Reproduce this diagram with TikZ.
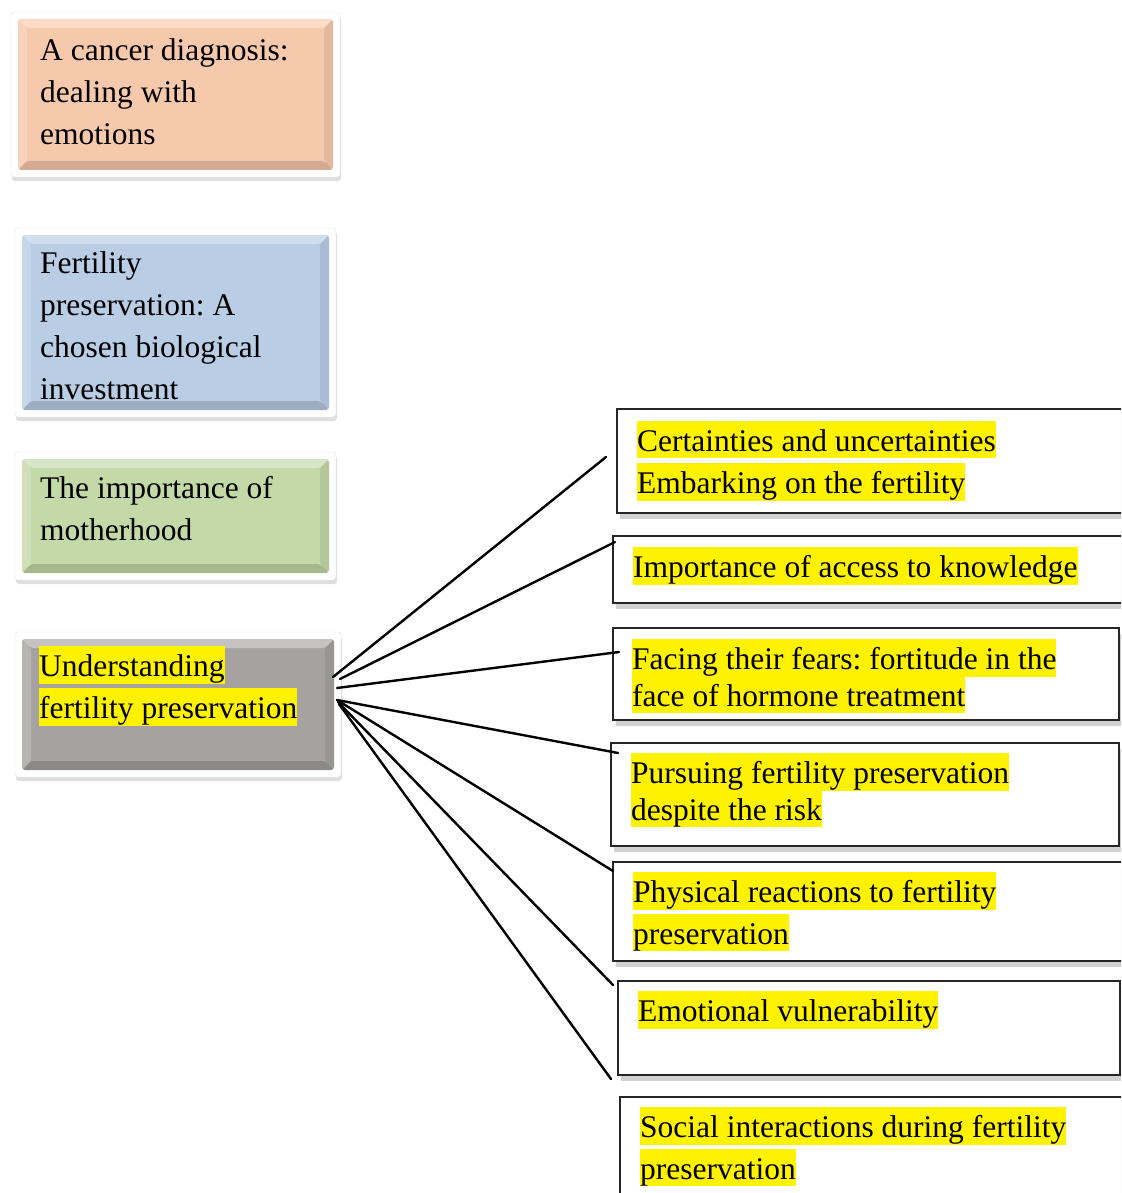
\documentclass[tikz,border=0pt]{standalone}
\usepackage{fontspec}
\setmainfont{Liberation Serif}
\usepackage{xcolor}
\usepackage{tikz}
\usetikzlibrary{positioning,calc,shadows}
\definecolor{thPeach}{RGB}{247,201,172}
\definecolor{thBlue}{RGB}{185,205,229}
\definecolor{thGreen}{RGB}{195,217,168}
\definecolor{thGray}{RGB}{166,162,162}
\newcommand{\hlt}[1]{{\setlength{\fboxsep}{0pt}\colorbox{yellow}{\rule[-0.2em]{0pt}{1.17em}#1}}}
\tikzset{
  th_box/.style={
    draw=black!12, fill=white, rounded corners=3pt, inner sep=0pt, outer sep=0pt,
    anchor=north west,
    drop shadow={shadow xshift=1pt, shadow yshift=-4pt, opacity=.25},
    path picture={
      \coordinate (pa) at ($(path picture bounding box.south west)+(7pt,7pt)$);
      \coordinate (pb) at ($(path picture bounding box.north east)+(-7pt,-7pt)$);
      \coordinate (qa) at ($(pa)+(9pt,9pt)$);
      \coordinate (qb) at ($(pb)+(-9pt,-9pt)$);
      \fill[#1] (pa) rectangle (pb);
      \fill[white, opacity=.35] (pa|-pb) -- (pb) -- (qb) -- (qa|-qb) -- cycle;
      \fill[white, opacity=.2]  (pa) -- (pa|-pb) -- (qa|-qb) -- (qa) -- cycle;
      \fill[black, opacity=.15] (pa) -- (pb|-pa) -- (qb|-qa) -- (qa) -- cycle;
      \fill[black, opacity=.08] (pb|-pa) -- (pb) -- (qb) -- (qb|-qa) -- cycle;
    }
  },
  sub_box/.style={
    draw=black!85, line width=1.2pt, fill=white, inner sep=0pt, outer sep=0pt,
    anchor=north west,
    drop shadow={shadow xshift=3pt, shadow yshift=-6pt, opacity=.3, fill=black!60}
  },
  th_txt/.style={
    inner sep=0pt, align=left,
    font=\fontsize{31.5}{42}\selectfont
  },
  th_txt_n/.style={
    inner sep=0pt, align=left,
    font=\fontsize{31.5}{36.5}\selectfont
  },
  link/.style={line width=2.4pt, line cap=round},
}
\begin{document}
\frenchspacing
\setlength{\lineskiplimit}{-20pt}
\begin{tikzpicture}[x=1pt, y=-1pt]
\useasboundingbox (0,0) rectangle (1121,1193);
\clip (0,0) rectangle (1121,1193);

% Themes
\node[th_box=thPeach, minimum width=329pt, minimum height=165pt] (diag) at (11,12) {};
\node[th_box=thBlue,  minimum width=321pt, minimum height=189pt,
      below right=51pt and 4pt of diag.south west] (pres) {};
\node[th_box=thGreen, minimum width=321pt, minimum height=128pt,
      below right=35pt and 0pt of pres.south west] (moth) {};
\node[th_box=thGray,  minimum width=326pt, minimum height=145pt,
      below right=52pt and 0pt of moth.south west] (und) {};

\node[th_txt, below right=26.5pt and 29pt of diag.north west] (tdiag)
  {A cancer diagnosis:\\dealing with\\emotions};
\node[th_txt, below right=23.5pt and 25pt of pres.north west] (tpres)
  {Fertility\\preservation: A\\chosen biological\\investment};
\node[th_txt, below right=24.5pt and 25pt of moth.north west] (tmoth)
  {The importance of\\motherhood};
\node[th_txt, below right=14pt and 24pt of und.north west] (tund)
  {\hlt{Understanding}\\\hlt{fertility preservation}};

% Sub-themes
\node[sub_box, minimum width=511pt, minimum height=104pt] (cert) at (617,409) {};
\node[sub_box, minimum width=515pt, minimum height=67pt,
      below right=23pt and -4pt of cert.south west] (know) {};
\node[sub_box, minimum width=506pt, minimum height=92pt,
      below right=25pt and 0pt of know.south west] (fear) {};
\node[sub_box, minimum width=508pt, minimum height=103pt,
      below right=23pt and -2pt of fear.south west] (risk) {};
\node[sub_box, minimum width=515pt, minimum height=99pt,
      below right=16pt and 2pt of risk.south west] (phys) {};
\node[sub_box, minimum width=502pt, minimum height=94pt,
      below right=20pt and 5pt of phys.south west] (emot) {};
\node[sub_box, minimum width=508pt, minimum height=110pt,
      below right=22pt and 2pt of emot.south west] (soc) {};

\node[th_txt, below right=12pt and 20pt of cert.north west] (tcert)
  {\hlt{Certainties and uncertainties}\\\hlt{Embarking on the fertility}};
\node[th_txt, below right=11pt and 20pt of know.north west] (tknow)
  {\hlt{Importance of access to knowledge}};
\node[th_txt_n, below right=11pt and 19pt of fear.north west] (tfear)
  {\hlt{Facing their fears: fortitude in the}\\\hlt{face of hormone treatment}};
\node[th_txt_n, below right=10pt and 20pt of risk.north west] (trisk)
  {\hlt{Pursuing fertility preservation}\\\hlt{despite the risk}};
\node[th_txt, below right=10pt and 20pt of phys.north west] (tphys)
  {\hlt{Physical reactions to fertility}\\\hlt{preservation}};
\node[th_txt, below right=10pt and 20pt of emot.north west] (temot)
  {\hlt{Emotional vulnerability}};
\node[th_txt, below right=10pt and 20pt of soc.north west] (tsoc)
  {\hlt{Social interactions during fertility}\\\hlt{preservation}};

% Links
\draw[link] ([xshift=-8pt,yshift=27.5pt]und.east) -- ([xshift=-11pt,yshift=4pt]cert.west);
\draw[link] ([xshift=-1pt,yshift=25.5pt]und.east) -- ([xshift=2pt,yshift=-6pt]know.north west);
\draw[link] ([xshift=-4pt,yshift=16.5pt]und.east) -- ([xshift=6pt,yshift=22pt]fear.west);
\draw[link] ([xshift=-4pt,yshift=4.5pt]und.east)  -- ([xshift=7pt,yshift=-10pt]risk.north west);
\draw[link] ([xshift=-4pt,yshift=4.5pt]und.east)  -- ([yshift=-9pt]phys.north west);
\draw[link] ([xshift=-3pt,yshift=2.5pt]und.east)  -- ([xshift=-5pt,yshift=-4pt]emot.north west);
\draw[link] ([xshift=-2pt,yshift=0.5pt]und.east)  -- ([xshift=-9pt,yshift=18pt]soc.north west);

\end{tikzpicture}
\end{document}
